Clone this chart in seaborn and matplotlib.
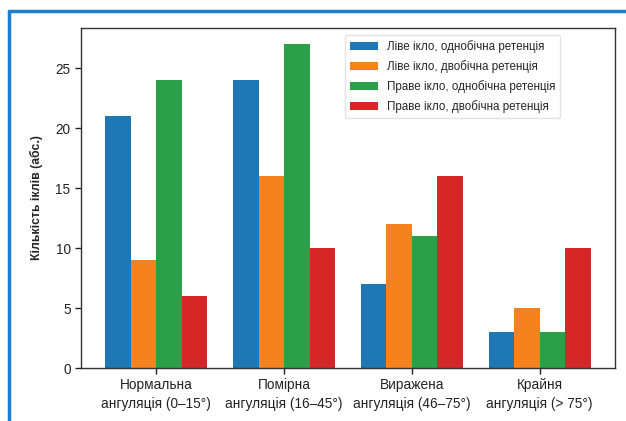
import numpy as np
import pandas as pd
import matplotlib.pyplot as plt
import seaborn as sns
from matplotlib.lines import Line2D

# ----------------------------------------
# Дані
categories = ['Нормальна\nангуляція (0–15°)', 'Помірна\nангуляція (16–45°)',
              'Виражена\nангуляція (46–75°)', 'Крайня\nангуляція (> 75°)']
series = ['Ліве ікло, однобічна ретенція', 'Ліве ікло, двобічна ретенція',
          'Праве ікло, однобічна ретенція', 'Праве ікло, двобічна ретенція']
left_single = [21, 24, 7, 3]
left_double = [9, 16, 12, 5]
right_single = [24, 27, 11, 3]
right_double = [6, 10, 16, 10]
colors = ['#1f77b4', '#f5821f', '#2ca048', '#d62728']

values = [left_single, left_double, right_single, right_double]
rows = []
for name, vals in zip(series, values):
    for cat, v in zip(categories, vals):
        rows.append({'cat': cat, 'series': name, 'count': v})
df = pd.DataFrame(rows)

# ----------------------------------------
sns.set_style('white')
plt.rcParams['font.family'] = ['Liberation Sans', 'DejaVu Sans']

fig = plt.figure(figsize=(6.26, 4.21), dpi=100)
ax = fig.add_axes([81 / 626, 53 / 421, 534 / 626, 340 / 421])

sns.barplot(data=df, x='cat', y='count', hue='series', palette=colors,
            order=categories, hue_order=series, width=0.8, saturation=1,
            linewidth=0, ax=ax)
ax.set_ylim(0, 28.35)
ax.set_xlim(-0.59, 3.59)
ax.set_xlabel('')
ax.set_ylabel('Кількість іклів (абс.)', fontsize=8.8, fontweight='bold', labelpad=9)
ax.set_yticks([0, 5, 10, 15, 20, 25])
ax.tick_params(axis='both', labelsize=9.8, length=4, width=1, colors='#222222',
               bottom=True, left=True)
for lbl in ax.get_xticklabels():
    lbl.set_linespacing(1.45)
for s in ax.spines.values():
    s.set_visible(True)
    s.set_color('#333333')
    s.set_linewidth(1)

leg = ax.legend(loc='upper right', bbox_to_anchor=(0.897, 0.979),
                borderaxespad=0, fontsize=8.4, frameon=True, title=None,
                handlelength=2.4, fancybox=True, labelspacing=0.62)
leg.get_frame().set_edgecolor('#dddddd')

# синя рамка
fig.add_artist(Line2D([9 / 626, 9 / 626], [0, 1 - 11 / 421], color='#1a7fd0',
                      lw=2.5, transform=fig.transFigure))
fig.add_artist(Line2D([9 / 626, 1], [1 - 11 / 421, 1 - 11 / 421], color='#1a7fd0',
                      lw=2.5, transform=fig.transFigure))

plt.savefig('out.png', dpi=100)
plt.close()
